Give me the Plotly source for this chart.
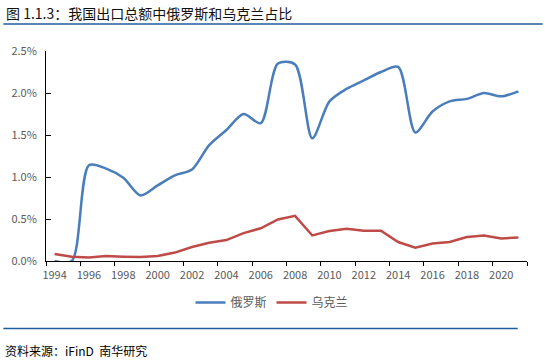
import plotly.graph_objects as go

years = list(range(1994, 2022))
russia = [0.0, 0.0, 1.14, 1.10, 0.99, 0.78, 0.90, 1.02, 1.09, 1.38, 1.56, 1.75, 1.64, 2.35,
          2.34, 1.46, 1.90, 2.05, 2.15, 2.25, 2.31, 1.53, 1.78, 1.90, 1.93, 2.00, 1.96, 2.02]
ukraine = [0.083, 0.051, 0.043, 0.059, 0.051, 0.047, 0.059, 0.10, 0.166, 0.217, 0.249, 0.332,
           0.39, 0.494, 0.538, 0.304, 0.356, 0.384, 0.36, 0.36, 0.226, 0.158, 0.209, 0.226,
           0.285, 0.304, 0.268, 0.28]
series_names = ["俄罗斯", "乌克兰"]
x_tick_labels = list(range(1994, 2021, 2))
y_ticks = [0.0, 0.5, 1.0, 1.5, 2.0, 2.5]

title_text = "图 1.1.3：我国出口总额中俄罗斯和乌克兰占比"
source_text = "资料来源：iFinD  南华研究"

W, H = 547, 360
PL, PR, PT, PB = 45.7, 527.3, 50.7, 261.3

def px(x):
    return (x - PL) / (PR - PL)

def py(y):
    return (PB - y) / (PB - PT)

CJK = "Noto Sans CJK SC, Microsoft YaHei, sans-serif"
GREY = "#595959"

fig = go.Figure()
fig.add_trace(go.Scatter(x=years, y=russia, mode="lines", name=series_names[0],
                         line=dict(color="#4A7EBB", width=2.5, shape="spline", smoothing=0.8)))
fig.add_trace(go.Scatter(x=years, y=ukraine, mode="lines", name=series_names[1],
                         line=dict(color="#BE4B48", width=2.5)))

fig.update_layout(
    width=W, height=H,
    margin=dict(l=PL, r=W - PR, t=PT, b=H - PB, pad=0),
    paper_bgcolor="white", plot_bgcolor="white",
    font=dict(family=CJK, size=11, color=GREY),
    showlegend=True,
    legend=dict(orientation="h", x=px(272), y=py(303), xanchor="center", yanchor="middle",
                font=dict(size=12, color=GREY, family=CJK), itemwidth=30,
                tracegroupgap=0, bgcolor="rgba(0,0,0,0)"),
    xaxis=dict(range=[1993.5, 2021.5], tickvals=x_tick_labels, ticktext=[str(v) for v in x_tick_labels],
               ticks="outside", ticklen=4, tickcolor="rgba(0,0,0,0)",
               showline=True, linecolor="black", linewidth=1, showgrid=False, zeroline=False,
               tickfont=dict(size=11, color=GREY, family=CJK),
               minor=dict(tickvals=[1993.5 + 2 * i for i in range(15)], ticks="outside",
                          ticklen=4, tickcolor="black", tickwidth=1, showgrid=False)),
    yaxis=dict(range=[0, 2.5], tickvals=y_ticks, ticktext=[f"{v:.1f}%" for v in y_ticks],
               ticks="inside", ticklen=5, tickcolor="black", tickwidth=1,
               showline=True, linecolor="black", linewidth=1, showgrid=False, zeroline=False,
               ticklabelstandoff=6,
               tickfont=dict(size=11, color=GREY, family=CJK)),
)

fig.add_annotation(text=title_text, xref="paper", yref="paper", x=px(4), y=py(13),
                   xanchor="left", yanchor="middle", showarrow=False,
                   font=dict(size=14, color="#111111", family=CJK))
fig.add_annotation(text=source_text, xref="paper", yref="paper", x=px(3), y=py(351),
                   xanchor="left", yanchor="middle", showarrow=False,
                   font=dict(size=12, color="black", family=CJK))

fig.add_shape(type="line", xref="paper", yref="paper", x0=px(3), x1=px(543), y0=py(23.5), y1=py(23.5),
              line=dict(color="#1F5C9C", width=1.5))
fig.add_shape(type="line", xref="paper", yref="paper", x0=px(3), x1=px(518), y0=py(329), y1=py(329),
              line=dict(color="#1F5C9C", width=1.5))

fig.write_html("out.html", config={"displayModeBar": False},
               post_script="document.body.style.margin='0';document.body.style.overflow='hidden';")
